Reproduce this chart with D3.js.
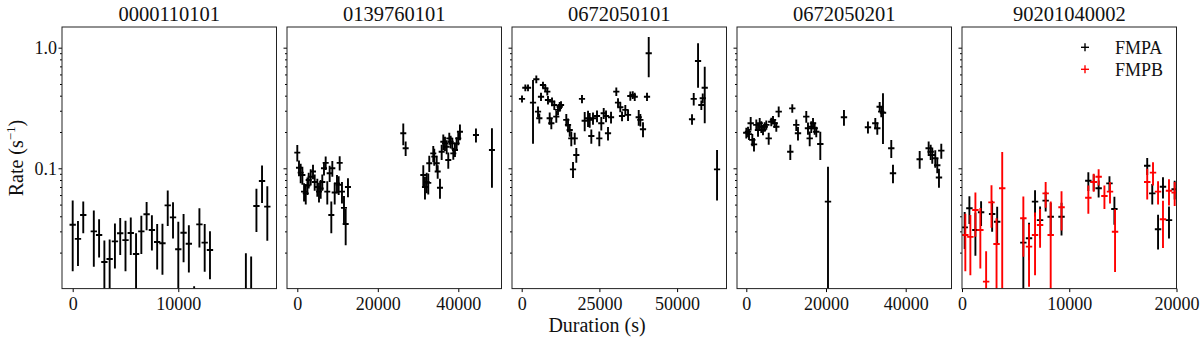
<!DOCTYPE html>
<html>
<head>
<meta charset="utf-8">
<script src="https://cdn.jsdelivr.net/npm/d3@7"></script>
<style>
body { margin: 0; background: #fff; }
svg { display: block; }
</style>
</head>
<body>
<div id="chart"></div>
<script>
// panel titles and axis ticks
let titles = ["0000110101", "0139760101", "0672050101", "0672050201", "90201040002"];
let xTickVals = [[0, 10000], [0, 20000, 40000], [0, 25000, 50000], [0, 20000, 40000], [0, 10000, 20000]];
let xLimits = [[-1013, 19300], [-2559, 50733], [-3121, 65894], [-2334, 51493], [0, 20000]];
let yLimits = [0.01006, 1.484];
let yMajor = [0.1, 1];
let yMinor = [0.02, 0.03, 0.04, 0.05, 0.06, 0.07, 0.08, 0.09, 0.2, 0.3, 0.4, 0.5, 0.6, 0.7, 0.8, 0.9];
let legendNames = ["FMPA", "FMPB"];

// 0000110101
let p1Time = [0, 500, 1000, 2000, 2500, 3000, 3500, 4000, 4500, 5000, 5500, 6000, 6500, 7000, 7500, 8000,
    8500, 9000, 9500, 10000, 10500, 11000, 11500, 12000, 12500, 13000, 16400, 16900, 17400, 17930, 18430];
let p1Rate = [0.034, 0.026, 0.041, 0.030, 0.028, 0.0167, 0.0177, 0.0248, 0.0289, 0.0254, 0.0291, 0.0195, 0.030,
    0.0416, 0.0308, 0.0245, 0.0239, 0.0493, 0.0392, 0.0213, 0.0292, 0.0237, 0.006, 0.0343, 0.0242, 0.0210,
    0.008, 0.008, 0.0487, 0.0785, 0.0481];
let p1Err = [0.020, 0.0105, 0.012, 0.0147, 0.0098, 0.0085, 0.008, 0.010, 0.0098, 0.0114, 0.010, 0.0095, 0.0105,
    0.011, 0.010, 0.010, 0.0108, 0.016, 0.013, 0.0147, 0.0126, 0.010, 0.0045, 0.0123, 0.0103, 0.009,
    0.0118, 0.0106, 0.019, 0.027, 0.023];

// 0139760101
let p2Time = [0, 420, 840, 1260, 1680, 2100, 2520, 2830, 3330, 3900, 4320, 4970, 5390, 5810, 6210, 6630, 7050,
    7450, 8040, 8450, 8700, 9290, 9860, 10280, 10530, 11100, 11600, 12020, 12590,
    26330, 26920, 31300, 31720, 32140, 32540, 32790, 33780, 34030, 34630, 34880, 35450, 35870, 36270, 36690,
    37110, 37510, 37760, 38100, 38510, 38760, 39170, 39590, 39990, 40410, 44390, 48360];
let p2Rate = [0.135, 0.101, 0.092, 0.088, 0.064, 0.062, 0.072, 0.080, 0.085, 0.094, 0.077, 0.070, 0.064, 0.068,
    0.077, 0.100, 0.111, 0.064, 0.091, 0.041, 0.100, 0.063, 0.075, 0.073, 0.111, 0.064, 0.047, 0.0345, 0.070,
    0.195, 0.1465, 0.088, 0.070, 0.077, 0.0757, 0.110, 0.133, 0.125, 0.110, 0.094, 0.069, 0.137, 0.166, 0.161,
    0.151, 0.117, 0.177, 0.166, 0.161, 0.133, 0.142, 0.161, 0.177, 0.201, 0.189, 0.142];
let p2Err = [0.021, 0.015, 0.017, 0.015, 0.011, 0.012, 0.012, 0.012, 0.013, 0.013, 0.012, 0.012, 0.012, 0.012,
    0.012, 0.013, 0.014, 0.014, 0.014, 0.012, 0.015, 0.013, 0.013, 0.013, 0.015, 0.013, 0.012, 0.0115, 0.0125,
    0.04, 0.02, 0.018, 0.015, 0.015, 0.015, 0.017, 0.02, 0.02, 0.017, 0.012, 0.013, 0.02, 0.025, 0.022,
    0.02, 0.018, 0.02, 0.02, 0.018, 0.015, 0.018, 0.02, 0.022, 0.03, 0.025, 0.073];

// 0672050101
let p3Time = [100, 1170, 2030, 3640, 4700, 5250, 5670, 6210, 6850, 7600, 8240, 8460, 9010, 9530, 9750, 10490,
    11130, 11680, 12230, 12650, 14350, 14900, 15450, 15960, 16510, 17060, 17570, 19400, 20270, 21340, 21880,
    22400, 22940, 24230, 24970, 25610, 26390, 27130, 27770, 28740, 30440, 30990, 31720, 32280, 33340, 34210,
    34950, 35730, 36370, 37650, 38170, 39030, 40320, 40870, 54800, 55350, 56740, 57800, 58250, 58890, 62850];
let p3Rate = [0.376, 0.466, 0.466, 0.350, 0.547, 0.295, 0.26, 0.392, 0.491, 0.461, 0.432, 0.368, 0.26, 0.236,
    0.357, 0.335, 0.268, 0.305, 0.324, 0.335, 0.252, 0.229, 0.208, 0.177, 0.098, 0.177, 0.129, 0.376, 0.248,
    0.26, 0.252, 0.185, 0.26, 0.271, 0.177, 0.236, 0.286, 0.271, 0.195, 0.265, 0.432, 0.35, 0.321, 0.271,
    0.305, 0.277, 0.398, 0.405, 0.392, 0.265, 0.252, 0.211, 0.392, 0.899, 0.255, 0.376, 0.776, 0.335, 0.381,
    0.466, 0.098];
let p3Err = [0.025, 0.03, 0.03, 0.19, 0.04, 0.03, 0.025, 0.03, 0.03, 0.03, 0.03, 0.03, 0.03, 0.025, 0.03, 0.03,
    0.03, 0.03, 0.03, 0.025, 0.03, 0.03, 0.025, 0.025, 0.015, 0.02, 0.018, 0.03, 0.045, 0.04, 0.035, 0.025,
    0.03, 0.03, 0.025, 0.03, 0.03, 0.03, 0.025, 0.03, 0.035, 0.03, 0.03, 0.025, 0.03, 0.03, 0.035, 0.03, 0.03,
    0.04, 0.03, 0.03, 0.03, 0.33, 0.025, 0.045, 0.31, 0.03, 0.035, 0.23, 0.044];

// 0672050201
let p4Time = [0, 430, 680, 1100, 1510, 1930, 2510, 2940, 3360, 3760, 4190, 4620, 5020, 5620, 6270, 6700, 7130,
    7530, 8130, 11040, 11540, 12540, 12970, 15050, 15480, 15910, 16310, 16740, 17160, 17560, 18570, 20500,
    24510, 30530, 32370, 32870, 33470, 33870, 34300, 36380, 36810, 43510, 45760, 46270, 46670, 47420, 47920,
    48350, 48930];
let p4Rate = [0.197, 0.201, 0.192, 0.236, 0.172, 0.158, 0.229, 0.208, 0.236, 0.221, 0.208, 0.221, 0.229, 0.177,
    0.243, 0.252, 0.236, 0.221, 0.295, 0.137, 0.314, 0.229, 0.195, 0.268, 0.215, 0.177, 0.221, 0.236, 0.215,
    0.201, 0.159, 0.0529, 0.265, 0.219, 0.236, 0.215, 0.324, 0.295, 0.289, 0.1465, 0.091, 0.119, 0.1465,
    0.137, 0.129, 0.121, 0.106, 0.084, 0.140];
let p4Err = [0.02, 0.02, 0.02, 0.03, 0.02, 0.02, 0.025, 0.025, 0.025, 0.025, 0.02, 0.02, 0.02, 0.02, 0.02, 0.02,
    0.02, 0.02, 0.03, 0.02, 0.025, 0.025, 0.025, 0.03, 0.025, 0.025, 0.025, 0.025, 0.025, 0.02, 0.042, 0.05,
    0.04, 0.025, 0.025, 0.025, 0.03, 0.03, 0.13, 0.025, 0.016, 0.02, 0.02, 0.02, 0.02, 0.02, 0.015, 0.015, 0.02];

// 90201040002, FMPA
let p5aTime = [250, 690, 1250, 1780, 2810, 3280, 5720, 6250, 6810, 7280, 7800, 8270, 9280, 11780, 12280, 12740,
    13750, 14210, 17270, 17740, 18280, 18740, 19300, 19830];
let p5aRate = [0.0324, 0.0466, 0.0308, 0.0432, 0.0418, 0.036, 0.0242, 0.0263, 0.0529, 0.0372, 0.0539, 0.0397,
    0.0397, 0.0789, 0.077, 0.0683, 0.075, 0.046, 0.105, 0.062, 0.0312, 0.0703, 0.0372, 0.067];
let p5aErr = [0.011, 0.012, 0.012, 0.01, 0.012, 0.012, 0.0145, 0.009, 0.013, 0.011, 0.01, 0.012, 0.012, 0.014,
    0.012, 0.011, 0.011, 0.012, 0.017, 0.012, 0.01, 0.014, 0.011, 0.012];

// 90201040002, FMPB
let p5bTime = [310, 780, 1250, 1710, 2250, 2750, 3220, 3750, 5720, 6250, 6810, 7280, 7800, 8270, 9280, 11780,
    12280, 12740, 13280, 13800, 14270, 17270, 17810, 18280, 18740, 19300, 19830];
let p5bRate = [0.028, 0.027, 0.0451, 0.0308, 0.0115, 0.0522, 0.0236, 0.0683, 0.0385, 0.0224, 0.028, 0.0339,
    0.062, 0.028, 0.0475, 0.057, 0.077, 0.085, 0.0589, 0.064, 0.0298, 0.077, 0.092, 0.064, 0.0378, 0.0652, 0.0628];
let p5bErr = [0.014, 0.014, 0.018, 0.016, 0.009, 0.02, 0.015, 0.068, 0.02, 0.012, 0.015, 0.012, 0.015, 0.025,
    0.017, 0.015, 0.013, 0.013, 0.013, 0.013, 0.016, 0.022, 0.02, 0.014, 0.016, 0.016, 0.014];

let serif = "'Liberation Serif', 'Times New Roman', serif";

function drawErrorbars(g, x, y, time, rate, err, halfBin, color) {
    let pts = time.map(function(t, i){ return {t: t, r: rate[i], e: err[i]}; });
    let bars = g.append("g").attr("stroke", color).attr("stroke-width", 1.9);
    bars.selectAll(null).data(pts).enter().append("line")
        .attr("x1", d => x(d.t)).attr("x2", d => x(d.t))
        .attr("y1", d => y(Math.max(d.r - d.e, 1e-4)))
        .attr("y2", d => y(d.r + d.e));
    bars.selectAll(null).data(pts).enter().append("line")
        .attr("x1", d => x(d.t - halfBin)).attr("x2", d => x(d.t + halfBin))
        .attr("y1", d => y(d.r)).attr("y2", d => y(d.r));
}

function main(){
    let W = 1200, H = 342;
    let top = 27, bottom = 288.6;
    let left0 = 62, panelW = 214.5, step = 225;
    let halfBins = [300, 750, 1000, 800, 300];

    let svg = d3.select("#chart").append("svg")
        .attr("width", W)
        .attr("height", H);

    let y = d3.scaleLog().domain(yLimits).range([bottom, top]);

    let series = [
        [[p1Time, p1Rate, p1Err, "black"]],
        [[p2Time, p2Rate, p2Err, "black"]],
        [[p3Time, p3Rate, p3Err, "black"]],
        [[p4Time, p4Rate, p4Err, "black"]],
        [[p5aTime, p5aRate, p5aErr, "black"], [p5bTime, p5bRate, p5bErr, "red"]]
    ];

    titles.forEach(function(title, i){
        let left = left0 + i * step;
        let x = d3.scaleLinear().domain(xLimits[i]).range([0, panelW]);
        let g = svg.append("g").attr("transform", "translate(" + left + ",0)");

        g.append("clipPath").attr("id", "clip" + i)
            .append("rect").attr("x", 0).attr("y", top)
            .attr("width", panelW).attr("height", bottom - top);

        let plot = g.append("g").attr("clip-path", "url(#clip" + i + ")");
        series[i].forEach(function(s){
            drawErrorbars(plot, x, y, s[0], s[1], s[2], halfBins[i], s[3]);
        });

        // minor y ticks
        let minorAxis = g.append("g")
            .call(d3.axisLeft(y).tickValues(yMinor).tickSize(2).tickFormat(""));
        minorAxis.select(".domain").remove();

        let majorAxis = g.append("g")
            .call(d3.axisLeft(y).tickValues(yMajor).tickSize(3.5).tickPadding(1.5)
                .tickFormat(d => i === 0 ? (d === 1 ? "1.0" : "0.1") : ""));
        majorAxis.select(".domain").remove();
        majorAxis.selectAll("text")
            .attr("font-family", serif).attr("font-size", 18).attr("fill", "#111");

        let xAxis = g.append("g")
            .attr("transform", "translate(0," + bottom + ")")
            .call(d3.axisBottom(x).tickValues(xTickVals[i]).tickSize(3.5).tickPadding(5)
                .tickFormat(d3.format("d")));
        xAxis.select(".domain").remove();
        xAxis.selectAll("text")
            .attr("font-family", serif).attr("font-size", 18).attr("fill", "#111");

        g.append("rect")
            .attr("x", 0).attr("y", top)
            .attr("width", panelW).attr("height", bottom - top)
            .attr("fill", "none").attr("stroke", "#222").attr("stroke-width", 1);

        g.append("text")
            .attr("x", panelW / 2).attr("y", 20.5)
            .attr("text-anchor", "middle")
            .attr("font-family", serif).attr("font-size", 20.5).attr("fill", "#111")
            .text(title);
    });

    // legend in last panel
    let legendColors = ["black", "red"];
    legendNames.forEach(function(name, k){
        let cy = 47.3 + k * 22;
        let lg = svg.append("g").attr("stroke", legendColors[k]).attr("stroke-width", 1.4);
        lg.append("line").attr("x1", 1081).attr("x2", 1089).attr("y1", cy).attr("y2", cy);
        lg.append("line").attr("x1", 1085).attr("x2", 1085).attr("y1", cy - 4).attr("y2", cy + 4);
        svg.append("text")
            .attr("x", 1115).attr("y", cy + 6.5)
            .attr("font-family", serif).attr("font-size", 18).attr("fill", "#111")
            .text(name);
    });

    svg.append("text")
        .attr("x", 597).attr("y", 332)
        .attr("text-anchor", "middle")
        .attr("font-family", serif).attr("font-size", 20).attr("fill", "#111")
        .text("Duration (s)");

    let ylab = svg.append("text")
        .attr("transform", "translate(23,158) rotate(-90)")
        .attr("text-anchor", "middle")
        .attr("font-family", serif).attr("font-size", 20).attr("fill", "#111");
    ylab.append("tspan").text("Rate (s");
    ylab.append("tspan").attr("font-size", 13).attr("dy", -8).text("\u22121");
    ylab.append("tspan").attr("dy", 8).text(")");
}

main();
</script>
</body>
</html>
